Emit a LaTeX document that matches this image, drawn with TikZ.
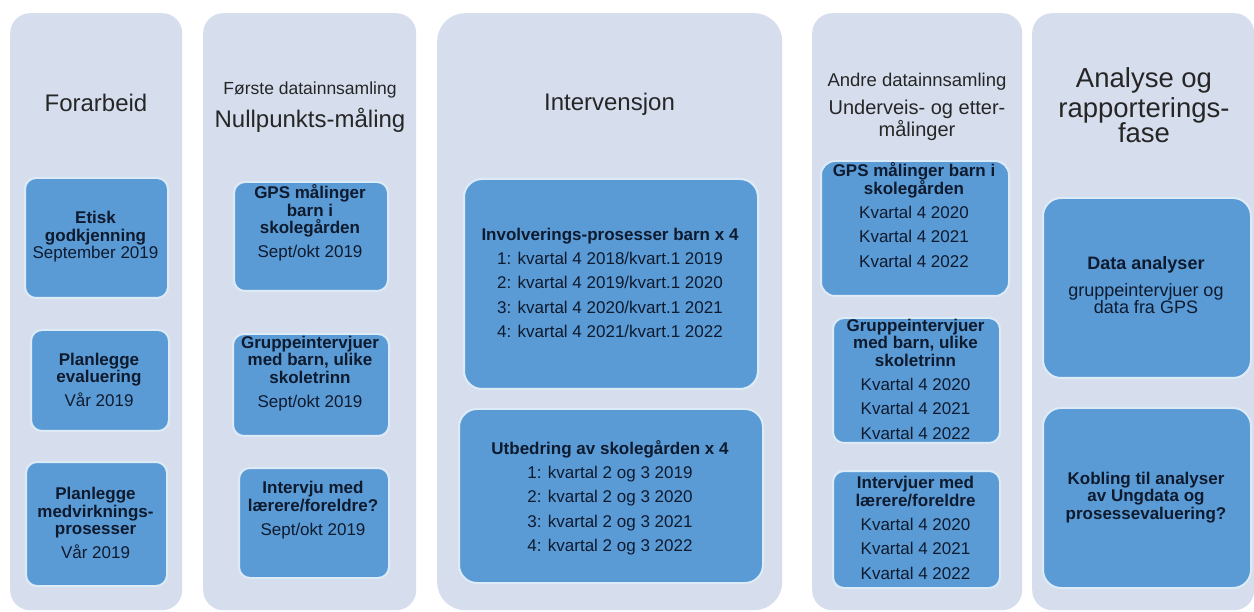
\documentclass[tikz,border=0pt]{standalone}
\usepackage{fontspec}
\setmainfont{Liberation Sans}
\definecolor{panelc}{HTML}{D6DEEE}
\definecolor{boxc}{HTML}{5B9BD5}
\definecolor{boxline}{HTML}{DDEBF7}
\definecolor{hdc}{HTML}{262626}
\definecolor{btc}{HTML}{0E1A2E}
\newcommand{\bb}[1]{\textbf{#1}}
\begin{document}
\begin{tikzpicture}[x=1pt,y=-1pt,
  panel/.style={rectangle, rounded corners=20pt, fill=panelc, inner sep=0pt, anchor=north west},
  box/.style={rectangle, rounded corners=11pt, fill=boxc, draw=boxline, line width=2pt, inner sep=0pt, anchor=north west},
  bigbox/.style={box, rounded corners=18pt},
  hd/.style={text=hdc, align=center, inner sep=0pt, anchor=base},
  hdL/.style={hd, font=\fontsize{24}{28}\selectfont},
  hdS/.style={hd, font=\fontsize{17.5}{20}\selectfont},
  hdM/.style={hd, font=\fontsize{20}{22}\selectfont},
  hdX/.style={hd, font=\fontsize{27.5}{28}\selectfont},
  bt/.style={text=btc, align=center, inner sep=0pt, font=\fontsize{17}{17.5}\selectfont},
]
\useasboundingbox (0,0) rectangle (1254,612);
\fill[white] (0,0) rectangle (1254,612);

% panels
\node[panel, minimum width=172pt, minimum height=597pt] (p1) at (10,13) {};
\node[panel, minimum width=213pt, minimum height=597pt] (p2) at (203,13) {};
\node[panel, rounded corners=28pt, minimum width=345pt, minimum height=597pt] (p3) at (437,13) {};
\node[panel, minimum width=210pt, minimum height=597pt] (p4) at (812,13) {};
\node[panel, minimum width=222pt, minimum height=597pt] (p5) at (1032,13) {};

% headers
\node[hdL] (h1) at (96,111.4) {Forarbeid};
\node[hdS] (h2a) at (310,95) {Første datainnsamling};
\node[hdL] (h2b) at (310,127.4) {Nullpunkts-måling};
\node[hdL] (h3) at (609.5,110.4) {Intervensjon};
\node[hdS, font=\fontsize{18.5}{20}\selectfont] (h4a) at (917,86.5) {Andre datainnsamling};
\node[hdM] (h4b) at (917,115) {Underveis- og etter-};
\node[hdM] (h4c) at (917,137) {målinger};
\node[hdX] (h5a) at (1144,87.6) {Analyse og};
\node[hdX] (h5b) at (1144,117.6) {rapporterings-};
\node[hdX] (h5c) at (1144,142.6) {fase};

% column 1
\node[box, minimum width=143pt, minimum height=120pt] (b11) at (24,177) {};
\node[bt] (t11) at (95.5,237) {\bb{Etisk}\\\bb{godkjenning}\\September 2019};
\node[box, minimum width=138pt, minimum height=101pt] (b12) at (30,329) {};
\node[bt] (t12) at (99,380) {\bb{Planlegge}\\\bb{evaluering}\\[6.5pt]Vår 2019};
\node[box, minimum width=141pt, minimum height=124pt] (b13) at (25,461) {};
\node[bt] (t13) at (95.5,523) {\bb{Planlegge}\\\bb{medvirknings-}\\\bb{prosesser}\\[6.5pt]Vår 2019};

% column 2
\node[box, minimum width=154pt, minimum height=109pt] (b21) at (233,181) {};
\node[bt] (t21) at (310,223) {\bb{GPS målinger}\\\bb{barn i}\\\bb{skolegården}\\[6.5pt]Sept/okt 2019};
\node[box, minimum width=156pt, minimum height=102pt] (b22) at (232,333) {};
\node[bt] (t22) at (310,373.5) {\bb{Gruppeintervjuer}\\\bb{med barn, ulike}\\\bb{skoletrinn}\\[6.5pt]Sept/okt 2019};
\node[box, minimum width=150pt, minimum height=110pt] (b23) at (238,467) {};
\node[bt] (t23) at (313,510) {\bb{Intervju med}\\\bb{lærere/foreldre?}\\[6.5pt]Sept/okt 2019};

% column 3
\node[bigbox, minimum width=294pt, minimum height=210pt] (b31) at (463,178) {};
\node[bt] (t31) at (610,283) {\bb{Involverings-prosesser barn x 4}\\[6pt]1: kvartal 4 2018/kvart.1 2019\\[7pt]2: kvartal 4 2019/kvart.1 2020\\[7pt]3: kvartal 4 2020/kvart.1 2021\\[7pt]4: kvartal 4 2021/kvart.1 2022};
\node[bigbox, minimum width=304pt, minimum height=174pt] (b32) at (458,408) {};
\node[bt] (t32) at (610,498) {\bb{Utbedring av skolegården x 4}\\[6pt]1: kvartal 2 og 3 2019\\[7pt]2: kvartal 2 og 3 2020\\[7pt]3: kvartal 2 og 3 2021\\[7pt]4: kvartal 2 og 3 2022};

% column 4
\node[box, rounded corners=14pt, minimum width=188pt, minimum height=135pt] (b41) at (820,160) {};
\node[bt] (t41) at (914,215) {\bb{GPS målinger barn i}\\\bb{skolegården}\\[6pt]Kvartal 4 2020\\[7pt]Kvartal 4 2021\\[7pt]Kvartal 4 2022};
\node[box, minimum width=167pt, minimum height=125pt] (b42) at (832,317) {};
\node[bt] (t42) at (915.5,379) {\bb{Gruppeintervjuer}\\\bb{med barn, ulike}\\\bb{skoletrinn}\\[6.5pt]Kvartal 4 2020\\[7pt]Kvartal 4 2021\\[7pt]Kvartal 4 2022};
\node[box, minimum width=167pt, minimum height=117pt] (b43) at (832,470) {};
\node[bt] (t43) at (915.5,528) {\bb{Intervjuer med}\\\bb{lærere/foreldre}\\[6.5pt]Kvartal 4 2020\\[7pt]Kvartal 4 2021\\[7pt]Kvartal 4 2022};

% column 5
\node[bigbox, minimum width=208pt, minimum height=180pt] (b51) at (1042,197) {};
\node[bt, font=\fontsize{18}{17.5}\selectfont] (t51) at (1146,285) {\bb{Data analyser}\\[9.5pt]gruppeintervjuer og\\data fra GPS};
\node[bigbox, minimum width=208pt, minimum height=180pt] (b52) at (1042,407) {};
\node[bt] (t52) at (1146,497.5) {\bb{Kobling til analyser}\\\bb{av Ungdata og}\\\bb{prosessevaluering?}};
\end{tikzpicture}
\end{document}
